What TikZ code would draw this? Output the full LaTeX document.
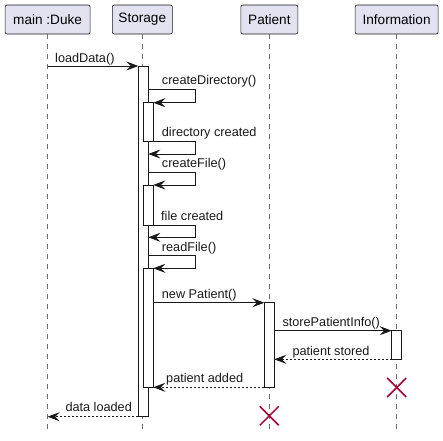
\documentclass[tikz,border=0pt]{standalone}
\usepackage{fontspec}
\setmainfont{Liberation Sans}
\usetikzlibrary{arrows.meta}
\definecolor{box fill}{RGB}{226,226,240}
\definecolor{box line}{RGB}{24,24,24}
\definecolor{life color}{RGB}{110,110,110}
\definecolor{kill color}{RGB}{168,0,54}

\begin{document}
\begin{tikzpicture}[
	x=1pt, y=-1pt,
	font=\fontsize{12.7}{15}\selectfont,
	actor/.style={draw=box line, fill=box fill, rounded corners=2pt, line width=.6pt,
		minimum height=29pt, inner sep=0pt, font=\fontsize{13.6}{16}\selectfont},
	life/.style={life color, line width=.5pt, dash pattern=on 5pt off 5pt},
	bar/.style={draw=box line, fill=white, line width=.8pt, minimum width=10pt,
		inner sep=0pt, outer sep=0pt, anchor=north},
	msg/.style={box line, line width=.8pt, -{Stealth[length=12pt, width=9pt, inset=4.5pt]}},
	ret/.style={msg, dash pattern=on 2pt off 2pt},
	lbl/.style={anchor=base west, inner sep=0pt, text=box line},
	kill/.style={kill color, line width=1.5pt}]

\useasboundingbox (0,0) rectangle (443,440);

% Participants
\node (duke) at (47.6,19.5) [actor, minimum width=85pt] {main :Duke};
\node (storage) at (142.3,19.5) [actor, minimum width=60pt] {Storage};
\node (patient) at (269.4,19.5) [actor, minimum width=57pt] {Patient};
\node (info) at (396.6,19.5) [actor, minimum width=83pt] {Information};

% Lifelines
\foreach \p in {duke, storage, patient, info} {
    \draw [life] (\p.south) -- (\p.south |- 0,430);
}

% Activations
\node (sto) at (143.3,66) [bar, minimum height=350.7pt] {};
\node (act1) at (148.3,102.7) [bar, minimum height=39pt] {};
\node (act2) at (148.3,185) [bar, minimum height=40pt] {};
\node (act3) at (148.3,268.3) [bar, minimum height=119pt] {};
\node (pat) at (269.3,302.7) [bar, minimum height=84.6pt] {};
\node (inf) at (396.7,330.7) [bar, minimum height=28.6pt] {};

% Messages
\draw [msg] (duke.south |- sto.north) -- (sto.north west);
\node (m1) at (55,62) [lbl] {loadData()};

\draw [msg] (sto.east |- 0,89.3) -- ++(47,0) |- (act1.north east);
\node (m2) at (161.7,84.5) [lbl] {createDirectory()};
\draw [msg] (act1.south east) -- ++(42,0) |- (sto.east |- 0,154);
\node (m3) at (161.7,136.5) [lbl] {directory created};

\draw [msg] (sto.east |- 0,172.7) -- ++(47,0) |- (act2.north east);
\node (m4) at (161.7,167.5) [lbl] {createFile()};
\draw [msg] (act2.south east) -- ++(42,0) |- (sto.east |- 0,237.3);
\node (m5) at (161,220) [lbl] {file created};

\draw [msg] (sto.east |- 0,255.7) -- ++(47,0) |- (act3.north east);
\node (m6) at (161.7,251) [lbl] {readFile()};

\draw [msg] (act3.east |- pat.north) -- (pat.north west);
\node (m7) at (161.7,298) [lbl] {new Patient()};

\draw [msg] (pat.east |- inf.north) -- (inf.north west);
\node (m8) at (282.3,326) [lbl] {storePatientInfo()};

\draw [ret] (inf.south west) -- (pat.east |- inf.south);
\node (m9) at (292.3,355) [lbl] {patient stored};

\draw [ret] (pat.south west) -- (act3.south east);
\node (m10) at (166,382.7) [lbl] {patient added};

\draw [ret] (sto.south west) -- (duke.south |- sto.south);
\node (m11) at (65.3,411.7) [lbl] {data loaded};

% Destroyed
\coordinate (infx) at (396.7,387.5);
\coordinate (patx) at (269.3,415.8);
\foreach \c in {infx, patx} {
    \draw [kill] ([shift={(-9.5,-9.5)}]\c) -- ([shift={(9.5,9.5)}]\c);
    \draw [kill] ([shift={(-9.5,9.5)}]\c) -- ([shift={(9.5,-9.5)}]\c);
}

\end{tikzpicture}
\end{document}
